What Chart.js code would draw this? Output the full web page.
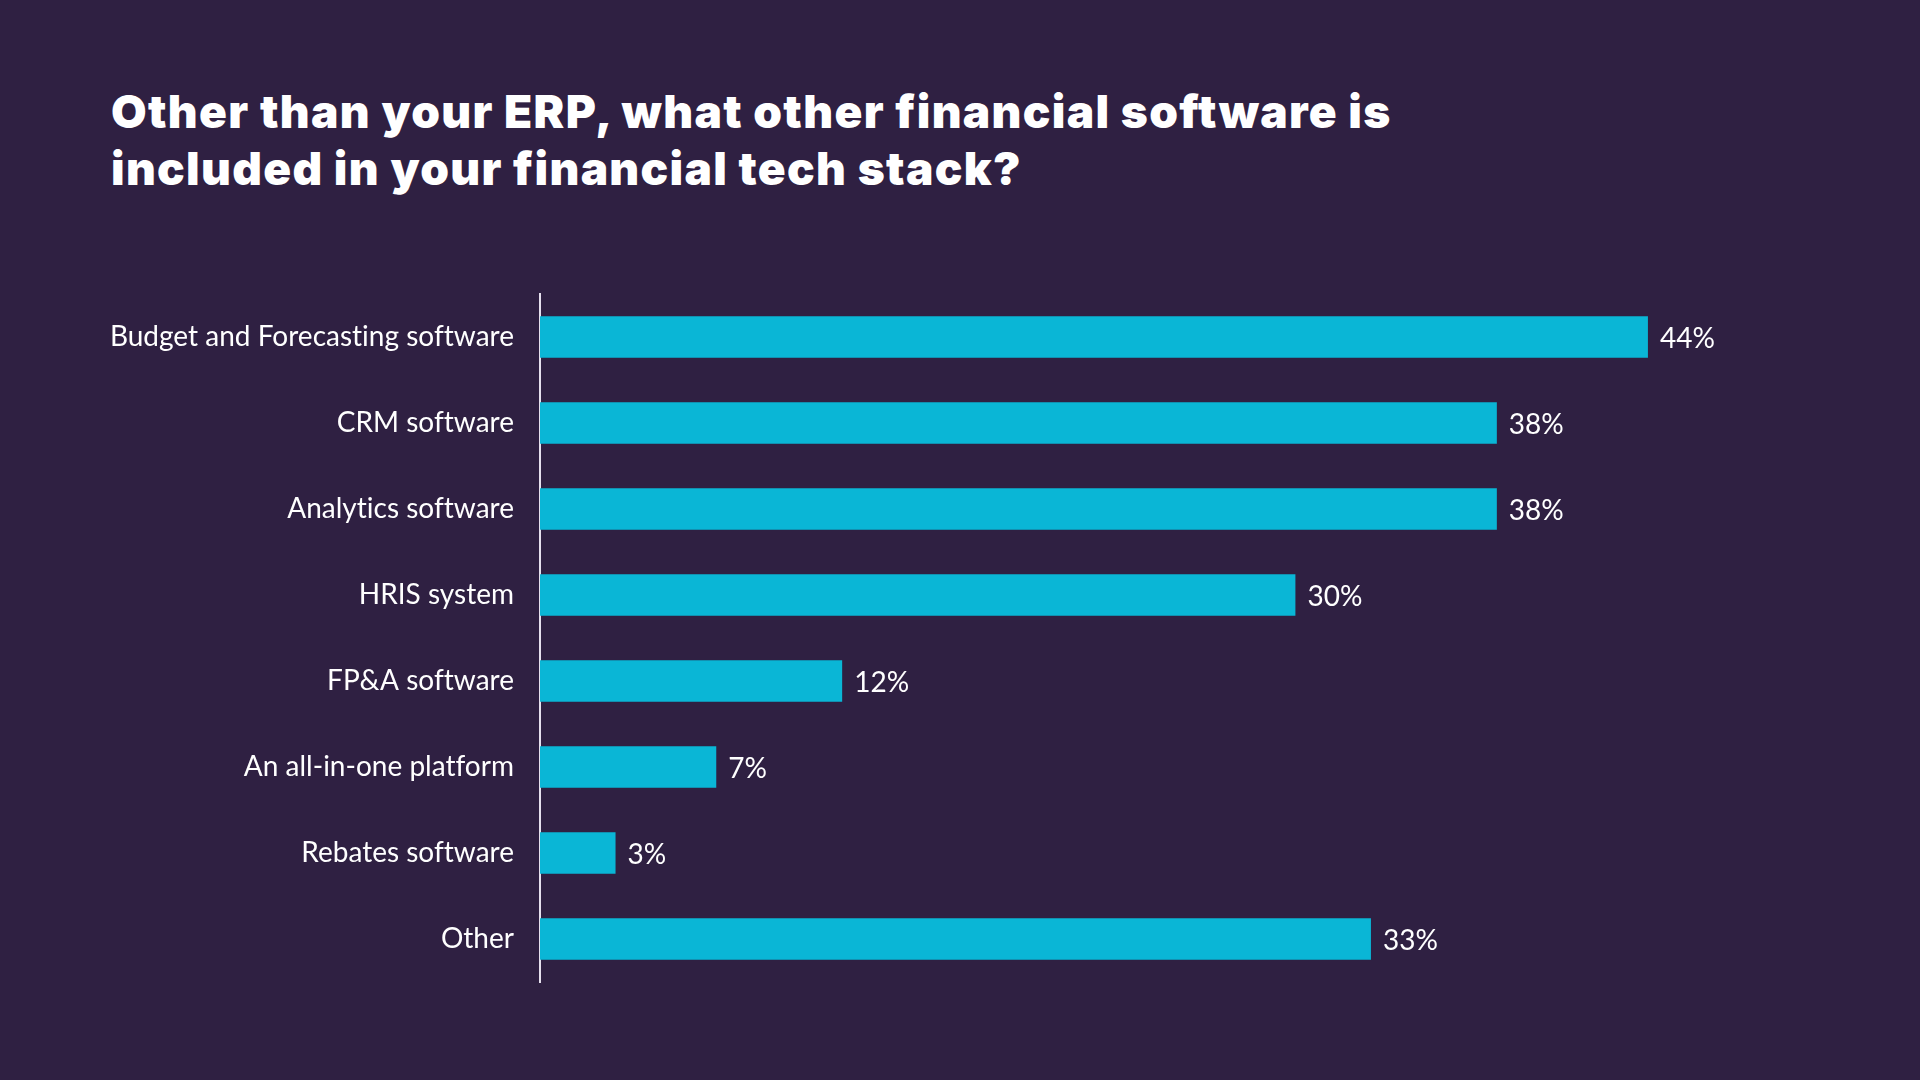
<!DOCTYPE html>
<html>
<head>
<meta charset="utf-8">
<script src="https://cdn.jsdelivr.net/npm/chart.js@4.4.0/dist/chart.umd.min.js"></script>
<style>
    html, body { margin: 0; padding: 0; }
    body {
        width: 1920px;
        height: 1080px;
        background: #2f2042;
        position: relative;
        overflow: hidden;
    }
    h1 {
        position: absolute;
        left: 111px;
        top: 83px;
        margin: 0;
        font-family: Inter, sans-serif;
        font-weight: 900;
        font-size: 46px;
        line-height: 57px;
        color: #ffffff;
        letter-spacing: 1.3px;
    }
    .chart-box {
        position: absolute;
        left: 0;
        top: 270px;
        width: 1920px;
        height: 740px;
    }
</style>
</head>
<body>
<h1>Other than your ERP, what other financial software is<br>included in your financial tech stack?</h1>
<div class="chart-box"><canvas id="stackChart"></canvas></div>
<script>
const categories = [
    'Budget and Forecasting software',
    'CRM software',
    'Analytics software',
    'HRIS system',
    'FP&A software',
    'An all-in-one platform',
    'Rebates software',
    'Other'
];
const shares = [44, 38, 38, 30, 12, 7, 3, 33];

document.addEventListener('DOMContentLoaded', function () {
    const ctx = document.getElementById('stackChart').getContext('2d');

    // tiny tracking keeps Lato from joining "ti"
    const tracking = {
        id: 'tracking',
        beforeDraw(chart) {
            chart.ctx.letterSpacing = '0.01px';
        }
    };

    // percentage text just past the end of each bar
    const valueLabels = {
        id: 'valueLabels',
        afterDatasetsDraw(chart) {
            const c = chart.ctx;
            const meta = chart.getDatasetMeta(0);
            c.save();
            c.font = '28px Lato';
            c.fillStyle = '#ffffff';
            c.textAlign = 'left';
            c.textBaseline = 'middle';
            meta.data.forEach(function (bar, i) {
                c.fillText(shares[i] + '%', bar.x + 12, bar.y + 2);
            });
            c.restore();
        }
    };

    new Chart(ctx, {
        type: 'bar',
        data: {
            labels: categories,
            datasets: [{
                data: shares,
                backgroundColor: '#0ab6d6',
                barPercentage: 0.48,
                categoryPercentage: 1
            }]
        },
        options: {
            indexAxis: 'y',
            responsive: true,
            maintainAspectRatio: false,
            animation: false,
            layout: {
                padding: { top: 24, bottom: 28, left: 0, right: 121 }
            },
            plugins: {
                legend: { display: false },
                tooltip: { enabled: false }
            },
            scales: {
                x: {
                    display: false,
                    min: 0,
                    max: 50
                },
                y: {
                    afterFit: function (scale) {
                        scale.width = 540;
                        scale.paddingTop = 0;
                        scale.paddingBottom = 0;
                    },
                    grid: { display: false, drawTicks: false },
                    border: { display: true, color: '#e6e0ee', width: 2 },
                    ticks: {
                        padding: 26,
                        color: '#ffffff',
                        font: { family: 'Lato', size: 28 }
                    }
                }
            }
        },
        plugins: [tracking, valueLabels]
    });
});
</script>
</body>
</html>
